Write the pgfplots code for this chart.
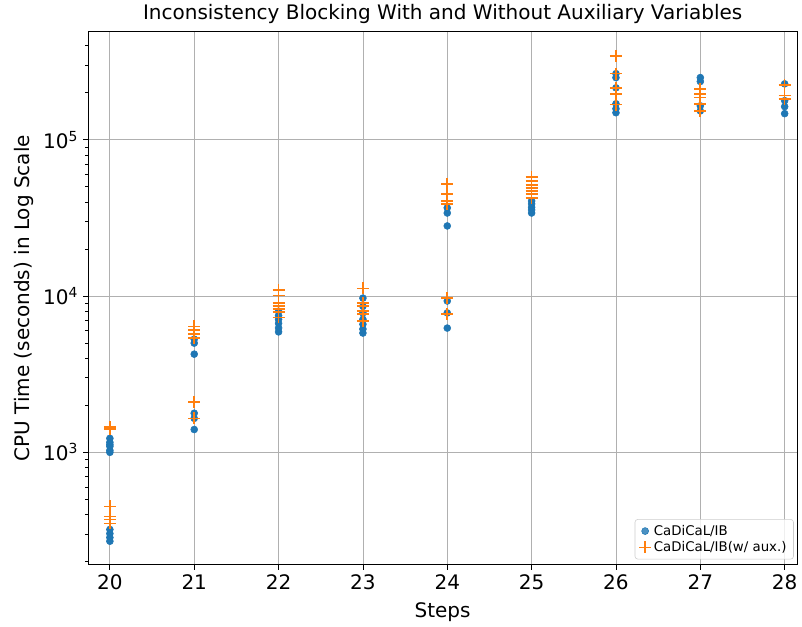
\documentclass[border=0pt]{standalone}
\usepackage{fontspec}
\setmainfont{DejaVu Sans}
\usepackage{pgfplots}
\pgfplotsset{compat=1.18}
\definecolor{mblue}{HTML}{1F77B4}
\definecolor{morange}{HTML}{FF7F0E}
\begin{document}
\begin{tikzpicture}
\begin{axis}[
  scale only axis, width=511pt, height=384pt,
  ymode=log, xmin=19.74, xmax=28.15, ymin=191, ymax=4.92e5,
  xtick={20,21,22,23,24,25,26,27,28},
  ytick={1e3,1e4,1e5},
  yticklabels={10\textsuperscript{3},10\textsuperscript{4},10\textsuperscript{5}},
  minor ytick={200,300,400,500,600,700,800,900,2000,3000,4000,5000,6000,7000,8000,9000,20000,30000,40000,50000,60000,70000,80000,90000,200000,300000,400000},
  grid=major, grid style={color=black!31, line width=0.6pt},
  tick align=outside, tick pos=left, major tick length=3.5pt, minor tick length=2pt,
  tick style={black, line width=0.6pt},
  axis line style={line width=0.6pt},
  ticklabel style={font=\fontsize{14.4}{16}\selectfont},
  /pgf/number format/assume math mode=true,
  title={Inconsistency Blocking With and Without Auxiliary Variables},
  title style={font=\fontsize{14.4}{16}\selectfont, yshift=-4pt},
  xlabel={Steps}, ylabel={CPU Time (seconds) in Log Scale},
  label style={font=\fontsize{14.4}{16}\selectfont},
  xlabel style={yshift=-2.5pt},
  ylabel style={yshift=0pt},
  legend style={at={(0.995,0.01)}, anchor=south east, font=\fontsize{9.6}{11}\selectfont,
    draw=black!20, rounded corners=2pt, fill=white, fill opacity=0.8, text opacity=1,
    row sep=-1pt},
  legend cell align=left,
]
\addplot[only marks, mark=*, mark size=2.5pt, color=mblue] coordinates {
(20,1229)(20,1159)(20,1120)(20,1093)(20,1030)(20,1000)(20,321)(20,302)(20,285)(20,270)
(21,5300)(21,5000)(21,4250)(21,1780)(21,1650)(21,1400)
(22,8000)(22,7500)(22,7100)(22,6700)(22,6250)(22,5900)
(23,9700)(23,8600)(23,7800)(23,7100)(23,6600)(23,6150)(23,5800)
(24,36700)(24,34000)(24,28100)(24,9300)(24,7800)(24,6240)
(25,40600)(25,38900)(25,37000)(25,35600)(25,34000)
(26,265000)(26,250000)(26,215000)(26,170000)(26,158000)(26,149000)
(27,250000)(27,236000)(27,165000)(27,153000)
(28,228000)(28,178000)(28,163000)(28,147000)
};
\addlegendentry{CaDiCaL/IB}
\addplot[only marks, mark=+, mark size=4.3pt, line width=1.2pt, color=morange] coordinates {
(20,1450)(20,1420)(20,1400)(20,451)(20,389)(20,372)(20,351)
(21,6400)(21,6050)(21,5700)(21,5400)(21,2090)(21,1650)
(22,10900)(22,10100)(22,9000)(22,8600)(22,8260)(22,7900)(22,7300)
(23,11200)(23,9000)(23,8600)(23,8000)(23,7670)(23,6900)
(24,52200)(24,45000)(24,40600)(24,38900)(24,9700)(24,7670)
(25,58000)(25,54600)(25,51500)(25,49200)(25,47000)(25,45000)(25,42500)
(26,345000)(26,265000)(26,215000)(26,197000)(26,168000)
(27,212000)(27,197000)(27,186000)(27,170000)(27,153000)
(28,225000)(28,192000)(28,183000)
};
\addlegendentry{CaDiCaL/IB(w/ aux.)}
\end{axis}
\path (current axis.outer west) ++(-7pt,0) coordinate (padleft);
\end{tikzpicture}
\end{document}
